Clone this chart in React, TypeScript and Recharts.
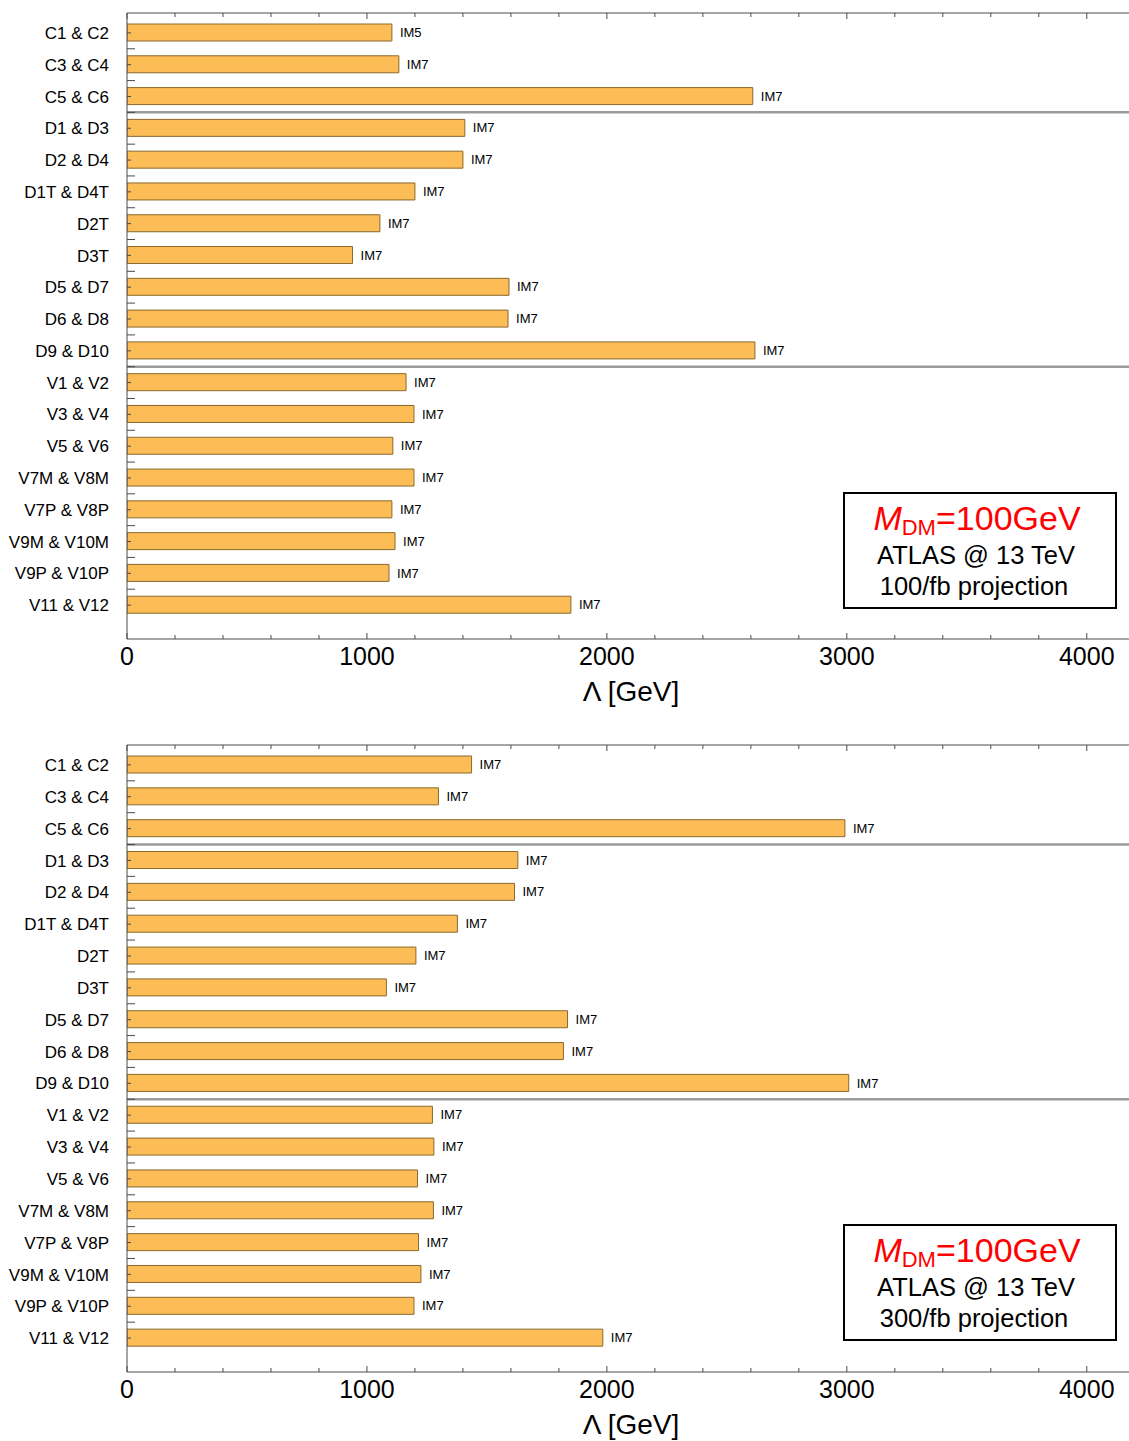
import React from "react";
import { Bar, BarChart, LabelList, ReferenceLine, XAxis, YAxis } from "recharts";

// operator pairs, top to bottom
const categories = [
  "C1 & C2", "C3 & C4", "C5 & C6",
  "D1 & D3", "D2 & D4", "D1T & D4T", "D2T", "D3T", "D5 & D7", "D6 & D8", "D9 & D10",
  "V1 & V2", "V3 & V4", "V5 & V6", "V7M & V8M", "V7P & V8P", "V9M & V10M", "V9P & V10P", "V11 & V12",
];

// Λ reach in GeV, 100/fb projection
const lambda100 = [
  1104, 1133, 2608,
  1408, 1400, 1200, 1054, 940, 1592, 1588, 2617,
  1163, 1196, 1108, 1196, 1104, 1117, 1092, 1850,
];
const tags100 = [
  "IM5", "IM7", "IM7",
  "IM7", "IM7", "IM7", "IM7", "IM7", "IM7", "IM7", "IM7",
  "IM7", "IM7", "IM7", "IM7", "IM7", "IM7", "IM7", "IM7",
];

// Λ reach in GeV, 300/fb projection
const lambda300 = [
  1436, 1298, 2992,
  1629, 1615, 1377, 1204, 1081, 1836, 1819, 3008,
  1273, 1279, 1211, 1277, 1215, 1225, 1196, 1983,
];
const tags300 = categories.map(() => "IM7");

// block separators sit above these rows
const separatorsAbove = ["D1 & D3", "V1 & V2"];

const xTicks = [0, 200, 400, 600, 800, 1000, 1200, 1400, 1600, 1800, 2000, 2200, 2400, 2600, 2800, 3000, 3200, 3400, 3600, 3800, 4000];
const X_MAX = 4176;

const FONT = "'Liberation Sans', Arial, Helvetica, sans-serif";
const AXIS = "#4a4a4a";

function BottomTick({ x, y, payload }: any) {
  const major = payload.value % 1000 === 0;
  return (
    <g>
      <line x1={x} y1={y} x2={x} y2={y - (major ? 6 : 4)} stroke={AXIS} strokeWidth={1} />
      {major && (
        <text x={x} y={y + 26} textAnchor="middle" fontSize={25} fontFamily={FONT} fill="#000">
          {payload.value}
        </text>
      )}
    </g>
  );
}

function TopTick({ x, y, payload }: any) {
  const major = payload.value % 1000 === 0;
  return <line x1={x} y1={y} x2={x} y2={y + (major ? 6 : 4)} stroke={AXIS} strokeWidth={1} />;
}

function LeftTick({ x, y, payload, index }: any) {
  const half = typeof payload.offset === "number" && payload.offset > 0 ? payload.offset : 15.9;
  const last = index === categories.length - 1;
  return (
    <g>
      <line x1={x} y1={y} x2={x + 4} y2={y} stroke={AXIS} strokeWidth={1} />
      {!last && <line x1={x} y1={y + half} x2={x + 8} y2={y + half} stroke={AXIS} strokeWidth={1} />}
      <text x={x - 18} y={y} dy="0.36em" textAnchor="end" fontSize={17} fontFamily={FONT} fill="#000">
        {payload.value}
      </text>
    </g>
  );
}

function AxisTitle({ viewBox }: any) {
  if (!viewBox) return null;
  return (
    <text x={viewBox.x + viewBox.width / 2 + 3} y={viewBox.y + 62} textAnchor="middle" fontSize={28} fontFamily={FONT} fill="#000">
      Λ [GeV]
    </text>
  );
}

function InfoBox({ lumi }: { lumi: string }) {
  return (
    <svg width={274} height={117} style={{ position: "absolute", left: 843, top: 492 }}>
      <rect x={1} y={1} width={272} height={115} fill="#fff" stroke="#000" strokeWidth={2} />
      <text x={134} y={38} textAnchor="middle" fontFamily={FONT} fill="#ff0000" fontSize={34}>
        <tspan fontStyle="italic">M</tspan>
        <tspan fontSize={22} dy={5}>DM</tspan>
        <tspan dy={-5}>=100GeV</tspan>
      </text>
      <text x={133} y={72} textAnchor="middle" fontFamily={FONT} fill="#000" fontSize={25.5}>
        ATLAS @ 13 TeV
      </text>
      <text x={131} y={103} textAnchor="middle" fontFamily={FONT} fill="#000" fontSize={25.5}>
        {lumi}
      </text>
    </svg>
  );
}

function Panel({ values, tags, lumi, height, bottomH }: { values: number[]; tags: string[]; lumi: string; height: number; bottomH: number }) {
  const rows = categories.map((name, i) => ({ name, value: values[i], tag: tags[i] }));
  return (
    <div style={{ position: "relative", width: 1129, height }}>
      <BarChart layout="vertical" width={1129} height={height} data={rows} margin={{ top: 0, right: 0, bottom: 0, left: 0 }}>
        <XAxis
          xAxisId="b"
          type="number"
          orientation="bottom"
          domain={[0, X_MAX]}
          allowDataOverflow
          ticks={xTicks}
          interval={0}
          height={bottomH}
          tickSize={0}
          tickMargin={0}
          tick={<BottomTick />}
          axisLine={{ stroke: AXIS, strokeWidth: 1 }}
          label={<AxisTitle />}
        />
        <XAxis
          xAxisId="t"
          type="number"
          orientation="top"
          domain={[0, X_MAX]}
          allowDataOverflow
          ticks={xTicks}
          interval={0}
          height={13}
          tickSize={0}
          tickMargin={0}
          tick={<TopTick />}
          axisLine={{ stroke: AXIS, strokeWidth: 1 }}
        />
        <YAxis
          type="category"
          dataKey="name"
          width={127}
          padding={{ top: 4, bottom: 18 }}
          interval={0}
          tickSize={0}
          tickMargin={0}
          tick={<LeftTick />}
          axisLine={{ stroke: AXIS, strokeWidth: 1 }}
        />
        {separatorsAbove.map((c) => (
          <ReferenceLine key={c} xAxisId="b" y={c} position="start" stroke="#9a9a9a" strokeWidth={2.5} />
        ))}
        <Bar xAxisId="b" dataKey="value" barSize={17} fill="#fcbc56" stroke="#8a6a2c" strokeWidth={1} isAnimationActive={false}>
          <LabelList dataKey="tag" position="right" offset={8} fontSize={13} fontFamily={FONT} fill="#000" />
        </Bar>
      </BarChart>
      <InfoBox lumi={lumi} />
    </div>
  );
}

export default function App() {
  return (
    <div style={{ position: "absolute", left: 0, top: 0, width: 1129, height: 1441, overflow: "hidden", background: "#fff", fontFamily: FONT }}>
      <Panel values={lambda100} tags={tags100} lumi="100/fb projection" height={732} bottomH={93} />
      <Panel values={lambda300} tags={tags300} lumi="300/fb projection" height={709} bottomH={69} />
    </div>
  );
}
